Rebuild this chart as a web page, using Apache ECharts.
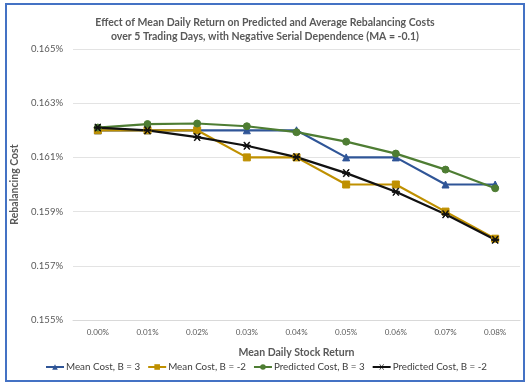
<!DOCTYPE html>
<html>
<head>
<meta charset="utf-8">
<script src="https://cdn.jsdelivr.net/npm/echarts@6/dist/echarts.min.js"></script>
<style>
html,body{margin:0;padding:0;background:#fff;}
#wrap{position:relative;width:529px;height:385px;}
#frame{position:absolute;left:5px;top:3px;width:516px;height:375px;border:2px solid #4472C4;box-sizing:content-box;pointer-events:none;}
#chart{position:absolute;left:0;top:0;width:529px;height:385px;}
</style>
</head>
<body>
<div id="wrap"><div id="chart"></div><div id="frame"></div></div>
<script>
const categories = ['0.00%','0.01%','0.02%','0.03%','0.04%','0.05%','0.06%','0.07%','0.08%'];
const meanCostB3 = [0.1620,0.1620,0.1620,0.1620,0.1620,0.1610,0.1610,0.1600,0.1600];
const meanCostBm2 = [0.1620,0.1620,0.1620,0.1610,0.1610,0.1600,0.1600,0.1590,0.1580];
const predCostB3 = [0.16210,0.16223,0.16225,0.16215,0.16193,0.16158,0.16114,0.16055,0.15986];
const predCostBm2 = [0.16210,0.16200,0.16175,0.16143,0.16101,0.16042,0.15973,0.15890,0.15796];
const seriesNames = ['Mean Cost, B = 3','Mean Cost, B = -2','Predicted Cost, B = 3','Predicted Cost, B = -2'];
const titleLines = ['Effect of Mean Daily Return on Predicted and Average Rebalancing Costs','over 5 Trading Days, with Negative Serial Dependence (MA = -0.1)'];

const font = 'Lato, "Open Sans", sans-serif';
const starPath = 'path://M-1,-0.15 L1,-0.15 L1,0.15 L-1,0.15 Z M-0.85,-0.85 L-0.6,-0.85 L0.85,0.85 L0.6,0.85 Z M0.85,-0.85 L0.6,-0.85 L-0.85,0.85 L-0.6,0.85 Z';

function mk(name, data, color, symbol, size){
  return {name, type:'line', data, symbol, symbolSize:size, showSymbol:true,
    lineStyle:{color, width:2.2}, itemStyle:{color, borderColor:color}, emphasis:{disabled:true}, z:3};
}

const chart = echarts.init(document.getElementById('chart'), null, {renderer:'canvas'});
chart.setOption({
  animation:false,
  backgroundColor:'#fff',
  title:{text:titleLines.join('\n'), left:260, textAlign:'center', top:11,
    textStyle:{fontFamily:font, fontSize:10.5, fontWeight:'bold', color:'#595959', lineHeight:14}},
  grid:{left:73, right:9, top:49, bottom:65, containLabel:false},
  legend:{top:362, left:45, width:480, padding:0, itemWidth:18, itemHeight:7, itemGap:7,
    data:seriesNames,
    textStyle:{fontFamily:font, fontSize:9.8, color:'#404040', padding:[0,0,0,-3]}},
  xAxis:{type:'category', data:categories, boundaryGap:true,
    name:'Mean Daily Stock Return', nameLocation:'middle', nameGap:27,
    nameTextStyle:{fontFamily:font, fontSize:10.5, fontWeight:'bold', color:'#595959'},
    axisLine:{lineStyle:{color:'#d9d9d9'}}, axisTick:{show:false},
    axisLabel:{fontFamily:font, fontSize:8, color:'#595959', margin:8}},
  yAxis:{type:'value', min:0.155, max:0.165, interval:0.002,
    name:'Rebalancing Cost', nameLocation:'middle', nameGap:50,
    nameTextStyle:{fontFamily:font, fontSize:10.5, fontWeight:'bold', color:'#595959'},
    axisLine:{show:false}, axisTick:{show:false},
    splitLine:{lineStyle:{color:'#e3e3e3'}},
    axisLabel:{fontFamily:font, fontSize:9.5, color:'#595959', margin:10,
      formatter:v=>v.toFixed(3)+'%'}},
  series:[
    mk(seriesNames[0], meanCostB3, '#2F5597', 'triangle', 7),
    mk(seriesNames[1], meanCostBm2, '#BF9000', 'rect', 7),
    mk(seriesNames[2], predCostB3, '#4E7D33', 'circle', 7),
    mk(seriesNames[3], predCostBm2, '#111111', starPath, 7)
  ]
});
</script>
</body>
</html>
